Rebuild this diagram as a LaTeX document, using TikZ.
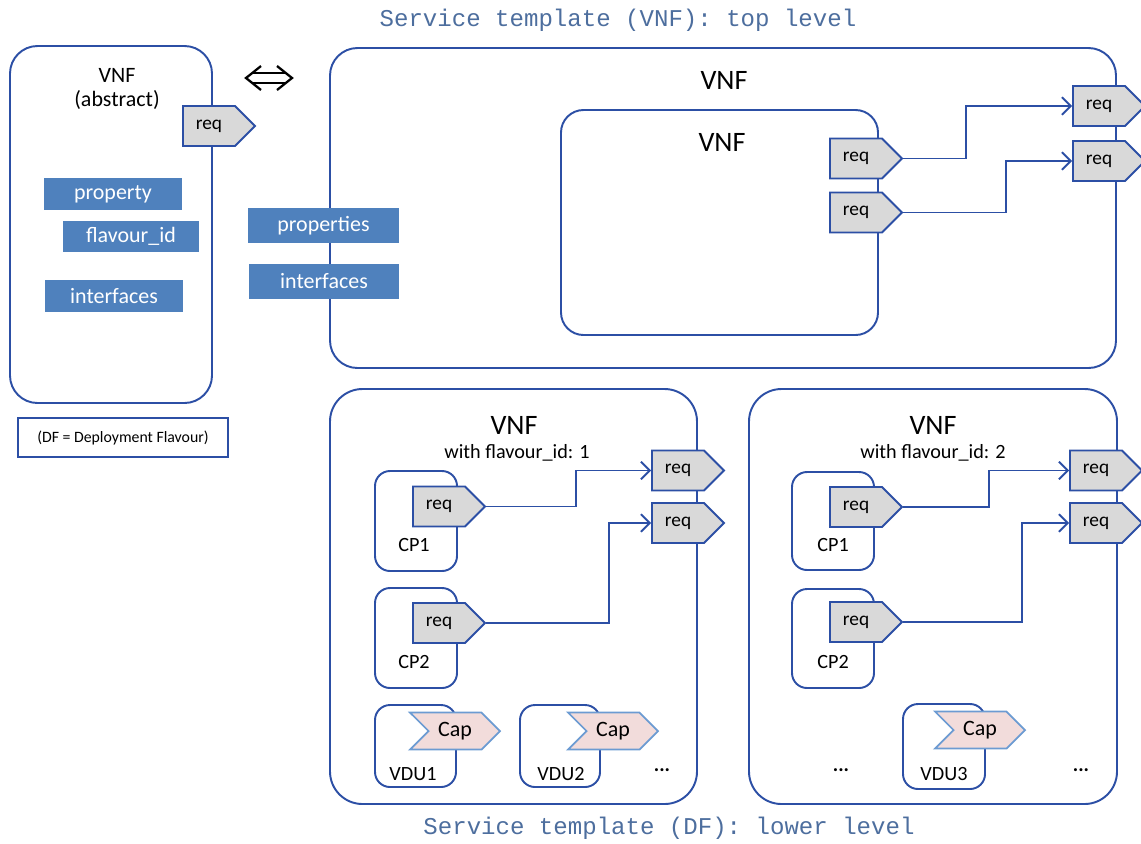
\documentclass[tikz,border=0pt]{standalone}
\usepackage{fontspec}
\setmainfont{Carlito}
\setmonofont{Liberation Mono}
\usetikzlibrary{shapes.symbols,arrows.meta}

\definecolor{vnfline}{HTML}{2C4FA5}
\definecolor{propfill}{HTML}{4F81BD}
\definecolor{reqfill}{HTML}{D9D9D9}
\definecolor{capfill}{HTML}{F2DCDB}
\definecolor{capline}{HTML}{6C9BD2}
\definecolor{tplblue}{HTML}{4D6E9E}

\tikzset{
  panel/.style={draw=vnfline,line width=1.1pt,rounded corners=0.55cm},
  cpbox/.style={draw=vnfline,line width=1.1pt,rounded corners=0.3cm},
  prop/.style={fill=propfill,text=white,inner sep=0pt,font=\fontsize{12.5}{14}\selectfont},
  req/.style={signal,signal to=east,draw=vnfline,line width=1.1pt,fill=reqfill,
    minimum width=1.44cm,minimum height=0.8cm,inner sep=0pt,font=\fontsize{11}{13}\selectfont},
  capsig/.style={signal,signal to=east,signal from=west,draw=capline,line width=1pt,fill=capfill,
    minimum width=1.8cm,minimum height=0.74cm,inner sep=0pt,font=\fontsize{12.5}{14}\selectfont},
  conn/.style={draw=vnfline,line width=1.1pt,-{Straight Barb[length=5pt,width=10pt]}},
  tpltitle/.style={text=tplblue,font=\ttfamily\fontsize{13.7}{16}\selectfont},
  vnflbl/.style={font=\fontsize{16}{18}\selectfont},
  sublbl/.style={font=\fontsize{11.5}{13}\selectfont},
  cplbl/.style={font=\fontsize{11.5}{13}\selectfont}
}

\begin{document}
\begin{tikzpicture}[x=0.02cm,y=-0.02cm]
\useasboundingbox (0,0) rectangle (1141,843);

% titles
\node[tpltitle] (ttop) at (618,20) {Service template (VNF): top level};
\node[tpltitle] (tlow) at (669,828) {Service template (DF): lower level};

% abstract VNF
\draw[panel] (10,46) rectangle (212,403);
\node[align=center,font=\fontsize{12.5}{13.6}\selectfont] (avnf) at (117,89) {VNF\\(abstract)};
\node[req] (areq) at (209,126) {req};
\node[prop,minimum width=2.76cm,minimum height=0.64cm] (aprop) at (113,194) {property};
\node[prop,minimum width=2.74cm,minimum height=0.62cm] (aflav) at (131,236.5) {flavour\_id};
\node[prop,minimum width=2.76cm,minimum height=0.64cm] (aint) at (114,296) {interfaces};
\node[draw=vnfline,line width=1.1pt,minimum width=4.2cm,minimum height=0.78cm,
  font=\fontsize{9}{10}\selectfont] (dfnote) at (123,437.5) {(DF = Deployment Flavour)};

% equivalence
\draw[line width=1.3pt] (261,66) -- (246,78) -- (261,90);
\draw[line width=1.3pt] (277,66) -- (292,78) -- (277,90);
\draw[line width=1.3pt] (252,73) -- (286,73);
\draw[line width=1.3pt] (252,83) -- (286,83);

% top level
\draw[panel] (330,48) rectangle (1116,368);
\node[vnflbl] (tvnf) at (724,80) {VNF};
\node[prop,minimum width=3.02cm,minimum height=0.7cm] (tprop) at (323.5,225.5) {properties};
\node[prop,minimum width=3cm,minimum height=0.7cm] (tint) at (324,281.5) {interfaces};
\draw[panel,rounded corners=0.45cm] (561,110) rectangle (878,335);
\node[vnflbl] (ivnf) at (722,142) {VNF};
\node[req] (ireq1) at (856,158.5) {req};
\node[req] (ireq2) at (856,212.5) {req};
\node[req] (treq1) at (1099,106) {req};
\node[req] (treq2) at (1099,161) {req};
\draw[conn] (ireq1.east) -- ++(63,0) |- (treq1.west);
\draw[conn] (ireq2.east) -- ++(103,0) |- (treq2.west);

% lower level, flavour 1
\draw[panel,rounded corners=0.65cm] (330,389) rectangle (697,804);
\node[vnflbl] (avnf1) at (514,425) {VNF};
\node[sublbl] (aflv1) at (517,453) {with flavour\_id: 1};
\draw[cpbox] (375,471) rectangle (457,571);
\draw[cpbox] (375,588) rectangle (457,688);
\draw[cpbox] (375,705) rectangle (456,787);
\draw[cpbox] (520,705) rectangle (600,787);
\node[cplbl] (acp1) at (414,545) {CP1};
\node[cplbl] (acp2) at (414,662) {CP2};
\node[cplbl] (avdu1) at (413,774) {VDU1};
\node[cplbl] (avdu2) at (561,774) {VDU2};
\node[cplbl] (adots) at (662,770) {\textbf{...}};
\node[req] (acreq1) at (439,506.5) {req};
\node[req] (acreq2) at (439,623) {req};
\node[capsig] (acap1) at (455,731) {Cap};
\node[capsig] (acap2) at (613,731) {Cap};
\node[req] (aoreq1) at (678,470.5) {req};
\node[req] (aoreq2) at (678,523) {req};
\draw[conn] (acreq1.east) -- ++(90,0) |- (aoreq1.west);
\draw[conn] (acreq2.east) -- ++(123,0) |- (aoreq2.west);

% lower level, flavour 2
\draw[panel,rounded corners=0.65cm] (749,389) rectangle (1117,804);
\node[vnflbl] (bvnf2) at (933,425) {VNF};
\node[sublbl] (bflv2) at (933,453) {with flavour\_id: 2};
\draw[cpbox] (792,472) rectangle (874,570);
\draw[cpbox] (792,589) rectangle (874,688);
\draw[cpbox] (903,704) rectangle (985,789);
\node[cplbl] (bcp1) at (833,545) {CP1};
\node[cplbl] (bcp2) at (833,662) {CP2};
\node[cplbl] (bvdu3) at (944,774) {VDU3};
\node[cplbl] (bdots1) at (841,770) {\textbf{...}};
\node[cplbl] (bdots2) at (1081,770) {\textbf{...}};
\node[req] (bcreq1) at (856,507) {req};
\node[req] (bcreq2) at (856,622) {req};
\node[capsig] (bcap3) at (980,730) {Cap};
\node[req] (boreq1) at (1096,470.5) {req};
\node[req] (boreq2) at (1096,523) {req};
\draw[conn] (bcreq1.east) -- ++(86,0) |- (boreq1.west);
\draw[conn] (bcreq2.east) -- ++(119,0) |- (boreq2.west);
\end{tikzpicture}
\end{document}
